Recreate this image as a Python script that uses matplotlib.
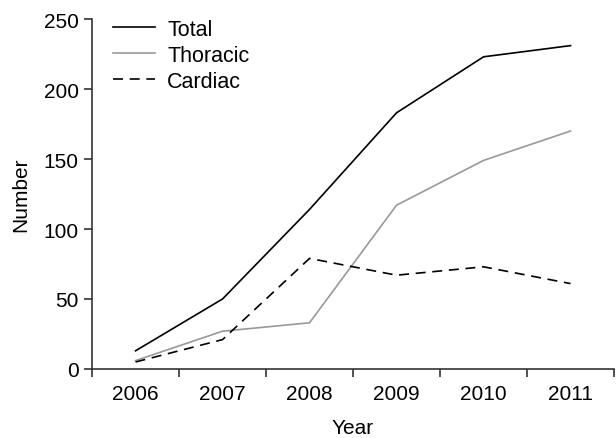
import matplotlib
matplotlib.use("Agg")
import matplotlib.pyplot as plt
import numpy as np

plt.rcParams['font.family'] = ['Liberation Sans', 'DejaVu Sans']

years = ['2006', '2007', '2008', '2009', '2010', '2011']
total = [13, 50, 114, 183, 223, 231]
thoracic = [6, 27, 33, 117, 149, 170]
cardiac = [5, 21, 79, 67, 73, 61]

fig = plt.figure(figsize=(6.16, 4.39), dpi=100)
ax = fig.add_axes([0.1494, 0.1572, 0.8474, 0.7972])

x = np.arange(len(years))
ax.plot(x, total, color='black', lw=1.2, label='Total')
ax.plot(x, thoracic, color='#999999', lw=1.2, label='Thoracic')
ax.plot(x, cardiac, color='black', lw=1.2, ls=(0, (6, 4)), label='Cardiac')

ax.set_xlim(-0.5, len(years) - 0.5)
ax.set_ylim(0, 250)
ax.set_yticks([0, 50, 100, 150, 200, 250])

# ticks sit between categories, labels centred on them
ax.set_xticks(np.arange(len(years) + 1) - 0.5)
ax.set_xticklabels([])
ax.set_xticks(x, minor=True)
ax.set_xticklabels(years, minor=True)
ax.tick_params(axis='x', which='minor', length=0, pad=11)

ax.tick_params(which='major', direction='out', length=6, width=1.2,
               color='#333333', labelsize=15)
ax.tick_params(axis='x', which='minor', labelsize=15)

for s in ['top', 'right']:
    ax.spines[s].set_visible(False)
for s in ['left', 'bottom']:
    ax.spines[s].set_color('#333333')
    ax.spines[s].set_linewidth(1.2)

ax.set_xlabel('Year', fontsize=15, labelpad=10.5)
ax.set_ylabel('Number', fontsize=15, labelpad=10)

ax.legend(loc='upper left', bbox_to_anchor=(0.1695, 0.975),
          bbox_transform=fig.transFigure, frameon=False, fontsize=15.5,
          handlelength=1.95, handletextpad=0.56, labelspacing=0.24,
          borderaxespad=0)

fig.savefig('out.png', dpi=100)
